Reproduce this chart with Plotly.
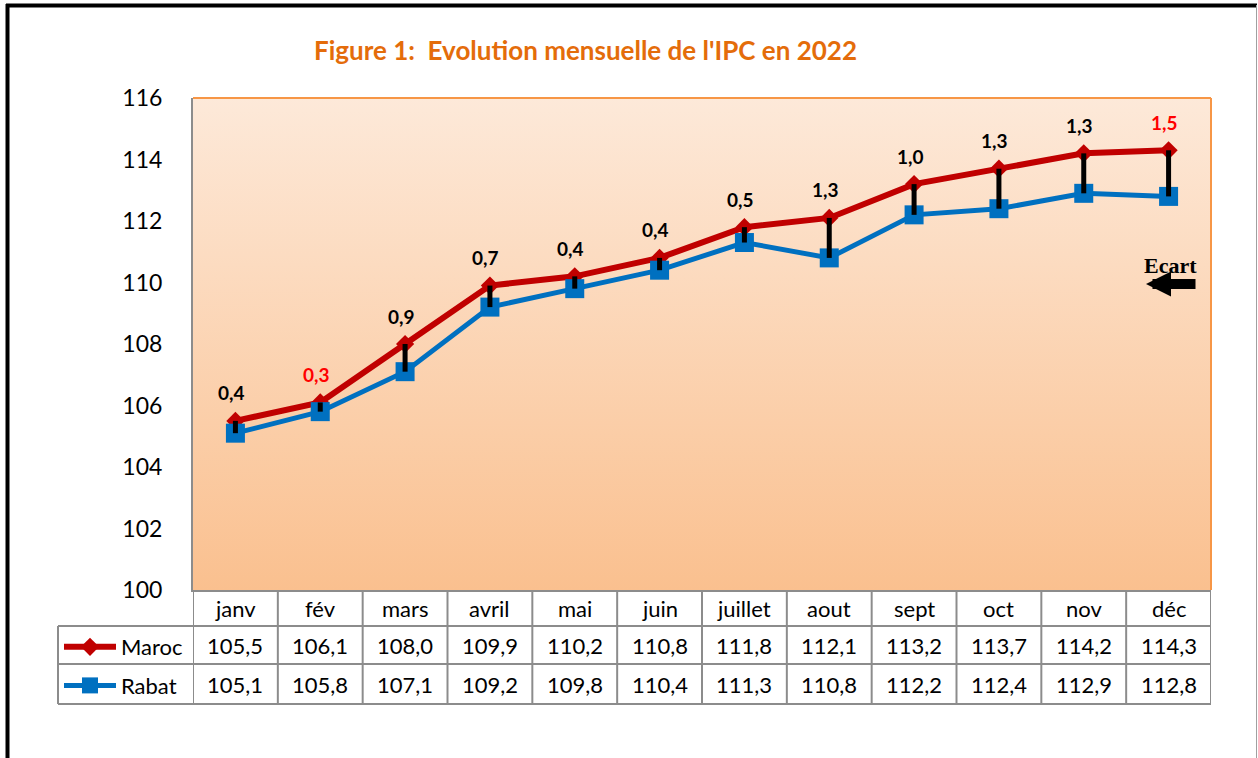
import plotly.graph_objects as go

months = ['janv', 'fév', 'mars', 'avril', 'mai', 'juin', 'juillet', 'aout', 'sept', 'oct', 'nov', 'déc']
maroc = [105.5, 106.1, 108.0, 109.9, 110.2, 110.8, 111.8, 112.1, 113.2, 113.7, 114.2, 114.3]
rabat = [105.1, 105.8, 107.1, 109.2, 109.8, 110.4, 111.3, 110.8, 112.2, 112.4, 112.9, 112.8]
highlight_months = ['fév', 'déc']
y_ticks = [100, 102, 104, 106, 108, 110, 112, 114, 116]

ecart = [round(m - r, 1) for m, r in zip(maroc, rabat)]
fmt = lambda v: f"{v:.1f}".replace('.', ',')
xs = list(range(len(months)))

FONT = "Lato"
RED = "#C00000"
BLUE = "#0070C0"
GRID = "#8C8C8C"

fig = go.Figure()

# gradient plot background
fig.add_trace(go.Scatter(
    x=[-0.5, 11.5, 11.5, -0.5, -0.5], y=[100, 100, 116, 116, 100],
    mode='lines', line=dict(width=0), fill='toself',
    fillgradient=dict(type='vertical', colorscale=[[0, '#FAC08F'], [1, '#FDE9D9']]),
    hoverinfo='skip', showlegend=False))

fig.add_trace(go.Scatter(
    x=xs, y=maroc, name='Maroc', mode='lines+markers',
    line=dict(color=RED, width=6), marker=dict(symbol='diamond', size=14, color=RED),
    legendgroup='a'))
fig.add_trace(go.Scatter(
    x=xs, y=rabat, name='Rabat', mode='lines+markers',
    line=dict(color=BLUE, width=5), marker=dict(symbol='square', size=19, color=BLUE),
    legendgroup='b'))
# ecart bars
fig.add_trace(go.Scatter(
    x=xs, y=rabat, mode='markers', marker=dict(size=1, opacity=0),
    error_y=dict(type='data', symmetric=False, array=ecart, arrayminus=[0] * len(xs),
                 color='black', thickness=5, width=0),
    hoverinfo='skip', showlegend=False))

W, H = 1258, 758
L, R, T, B = 193, 47, 98, 168
pw, ph = W - L - R, H - T - B
px = lambda x: (x - L) / pw
py = lambda y: (H - B - y) / ph

shapes = []
# plot border top/right orange
shapes.append(dict(type='line', xref='paper', yref='paper', x0=0, x1=1, y0=1, y1=1,
                   line=dict(color='#F79646', width=2), layer='above'))
shapes.append(dict(type='line', xref='paper', yref='paper', x0=1, x1=1, y0=0, y1=1,
                   line=dict(color='#F79646', width=2), layer='above'))
# table grid
rows_y = [py(626), py(664), py(704)]
for i in range(len(months) + 1):
    shapes.append(dict(type='line', xref='x', yref='paper', x0=i - 0.5, x1=i - 0.5,
                       y0=0, y1=rows_y[-1], line=dict(color=GRID, width=2)))
for yy in rows_y:
    shapes.append(dict(type='line', xref='paper', yref='paper', x0=px(58), x1=1,
                       y0=yy, y1=yy, line=dict(color=GRID, width=2)))
shapes.append(dict(type='line', xref='paper', yref='paper', x0=px(58), x1=px(58),
                   y0=rows_y[0], y1=rows_y[-1], line=dict(color=GRID, width=2)))
# outer frame
shapes.append(dict(type='line', xref='paper', yref='paper', x0=px(7.5), x1=px(7.5),
                   y0=py(4), y1=py(770), line=dict(color='black', width=4)))
shapes.append(dict(type='line', xref='paper', yref='paper', x0=px(6), x1=px(1257),
                   y0=py(5.5), y1=py(5.5), line=dict(color='black', width=4)))
shapes.append(dict(type='line', xref='paper', yref='paper', x0=px(1256.5), x1=px(1256.5),
                   y0=py(5), y1=py(770), line=dict(color='#A0A0A0', width=1)))

annotations = []
annotations.append(dict(xref='paper', yref='paper', x=px(585), y=py(50),
                        text="Figure 1:  Evolution mensuelle de l'IPC en 2022", showarrow=False,
                        font=dict(family=FONT, size=26, color='#E46C0A', weight='bold'),
                        xanchor='center', yanchor='middle'))
for i, m in enumerate(months):
    annotations.append(dict(x=i, y=maroc[i], xref='x', yref='y', text=fmt(ecart[i]),
                            showarrow=False, yshift=28, xshift=-4,
                            xanchor='center', yanchor='middle',
                            font=dict(family=FONT, size=19, weight='bold',
                                      color='#FF0000' if m in highlight_months else 'black')))
    for val, yy in ((m, 608), (fmt(maroc[i]), 645), (fmt(rabat[i]), 684)):
        annotations.append(dict(x=i, y=py(yy), xref='x', yref='paper', text=val,
                                showarrow=False, xanchor='center', yanchor='middle',
                                font=dict(family=FONT, size=22, color='black')))
# Ecart legend
annotations.append(dict(xref='paper', yref='paper', x=px(1170), y=py(265), text='Ecart',
                        showarrow=False, xanchor='center', yanchor='middle',
                        font=dict(family='Liberation Serif', size=22, color='black', weight='bold')))
annotations.append(dict(xref='paper', yref='paper', x=px(1146), y=py(284), text='',
                        showarrow=True, ax=51, ay=0, arrowcolor='black', arrowwidth=10,
                        arrowhead=2, arrowsize=0.5, standoff=0))

fig.update_layout(
    width=W, height=H, margin=dict(l=L, r=R, t=T, b=B),
    paper_bgcolor='white', plot_bgcolor='white',
    font=dict(family=FONT, size=22, color='black'),
    shapes=shapes, annotations=annotations,
    showlegend=True,
    legend=dict(x=px(59), y=rows_y[0], xanchor='left', yanchor='top',
                font=dict(family=FONT, size=22, color='black'),
                bgcolor='rgba(0,0,0,0)', traceorder='grouped', tracegroupgap=7,
                itemwidth=52),
    xaxis=dict(range=[-0.5, 11.5], tickvals=xs, showticklabels=False, showgrid=False,
               zeroline=False, showline=True, linecolor=GRID, linewidth=2, ticks=''),
    yaxis=dict(range=[100, 116], tickvals=y_ticks, showgrid=False, zeroline=False,
               showline=True, linecolor=GRID, linewidth=2, ticks='',
               ticklabelstandoff=24, tickfont=dict(family=FONT, size=23, color='black')),
)

fig.write_html("out.html", config={'displayModeBar': False},
               post_script="document.body.style.margin='0';")
